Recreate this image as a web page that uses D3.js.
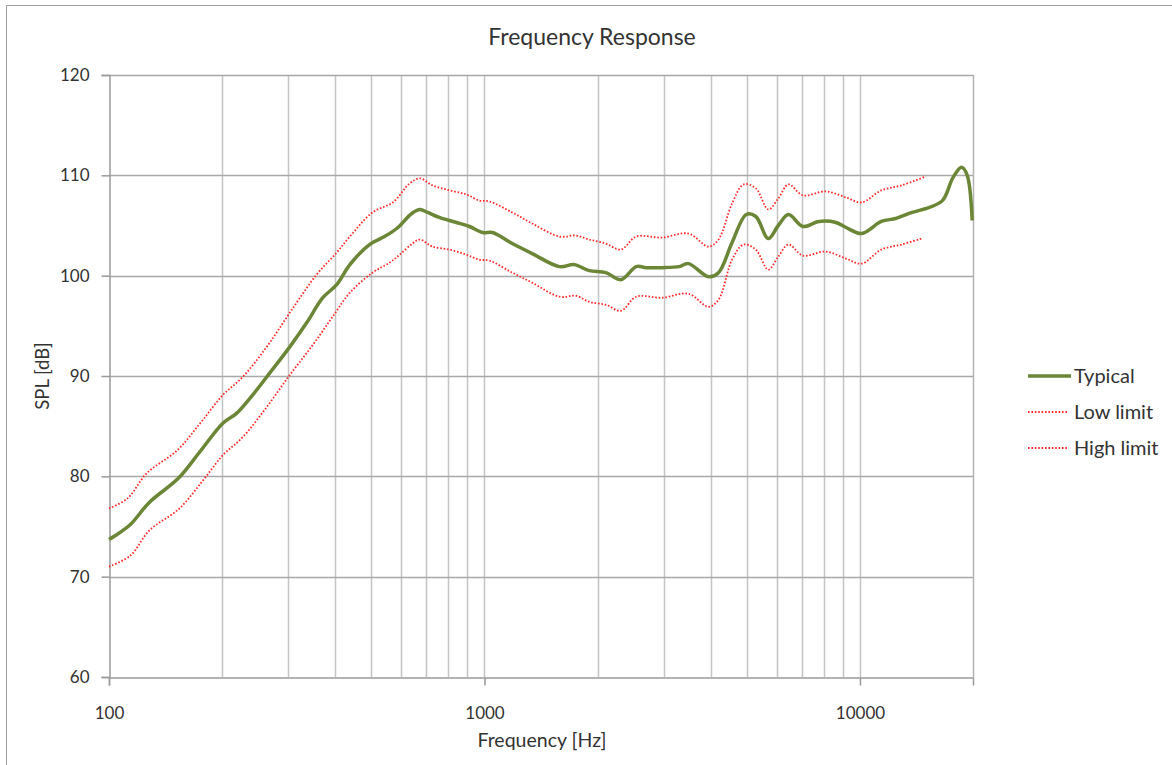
<!DOCTYPE html>
<html><head><meta charset="utf-8">
<script src="https://cdn.jsdelivr.net/npm/d3@7"></script>
<style>
body{margin:0;background:#fff;}
text{font-family:Lato,"Open Sans",sans-serif;fill:#333;}
</style></head><body>
<svg id="c" width="1172" height="765"></svg>
<script>
const title = "Frequency Response";
const xTickLabels = [100, 1000, 10000];
const yTickLabels = [60, 70, 80, 90, 100, 110, 120];
const seriesNames = ["Typical", "Low limit", "High limit"];

const typicalFreq = [100,104,114,128,153,175,201,219,240,263,303,336,371,404,438,494,535,584,640,673,706,758,842,912,989,1050,1186,1340,1584,1733,1901,2104,2309,2536,2700,2970,3300,3493,3952,4200,4565,4980,5280,5700,6060,6450,7050,7770,8630,9180,10100,11400,12450,13770,15300,16600,17700,18650,19300,19900];
const typicalDb   = [73.7,74.1,75.2,77.4,79.8,82.5,85.3,86.3,88.0,89.9,92.9,95.3,97.8,99.1,101.1,103.1,103.8,104.7,106.2,106.6,106.3,105.8,105.3,104.9,104.3,104.3,103.2,102.2,100.9,101.1,100.5,100.3,99.6,100.9,100.8,100.8,100.9,101.2,99.9,100.3,103.3,106.1,105.9,103.7,105.0,106.1,104.9,105.4,105.3,104.8,104.2,105.4,105.7,106.3,106.8,107.5,109.8,110.8,110.0,105.5];

const lowFreq = [100,114,128,154,178,201,227,263,303,349,394,438,503,559,595,643,673,727,808,894,967,1030,1186,1340,1584,1750,1901,2104,2309,2536,2970,3493,3952,4200,4565,4900,5280,5700,6060,6450,7050,8100,9180,10100,11400,12900,14600];
const lowDb   = [71.0,72.1,74.6,76.8,79.6,82.1,83.9,86.9,90.1,93.1,95.9,98.3,100.3,101.3,102.1,103.2,103.6,102.9,102.6,102.1,101.6,101.5,100.3,99.3,97.9,98.0,97.4,97.1,96.5,97.9,97.8,98.2,96.9,97.6,101.6,103.1,102.6,100.6,101.9,103.1,102.0,102.4,101.7,101.2,102.6,103.1,103.7];

const highFreq = [100,112,126,152,175,201,227,263,303,357,404,438,503,570,632,673,727,808,894,967,1030,1186,1340,1584,1750,1901,2104,2309,2536,2970,3493,3952,4200,4565,4900,5280,5700,6060,6450,7050,8100,9180,10100,11400,12900,15000];
const highDb   = [76.8,77.8,80.3,82.6,85.3,88.1,89.9,92.9,96.3,100.1,102.3,103.9,106.3,107.3,109.2,109.7,109.0,108.5,108.1,107.5,107.4,106.3,105.2,103.9,104.0,103.6,103.2,102.6,103.9,103.8,104.2,102.9,103.6,107.2,109.1,108.7,106.6,107.7,109.1,108.0,108.4,107.8,107.3,108.5,109.0,109.9];

const svg = d3.select("#c");
const L = 109, R = 973, T = 75, B = 677;
const x = d3.scaleLog().domain([100, 20000]).range([L, R]);
const y = d3.scaleLinear().domain([60, 120]).range([B, T]);

// outer frame
svg.append("rect").attr("x",6.5).attr("y",5.5).attr("width",1180).attr("height",780)
  .attr("fill","none").attr("stroke","#a0a0a0").attr("stroke-width",1);

// vertical grid (minor + major)
const vgrid = [];
[100,1000,10000].forEach(d => { for (let k=1;k<=9;k++){ const v=d*k; if (v>100 && v<20000) vgrid.push(v);} });
svg.append("g").selectAll("line").data(vgrid).join("line")
  .attr("x1",d=>Math.round(x(d))+0.5).attr("x2",d=>Math.round(x(d))+0.5)
  .attr("y1",T).attr("y2",B).attr("stroke","#c4c4c4").attr("stroke-width",1.5);
svg.append("line").attr("x1",R+0.5).attr("x2",R+0.5).attr("y1",T).attr("y2",B)
  .attr("stroke","#b4b4b4").attr("stroke-width",1.5);

// horizontal grid
svg.append("g").selectAll("line").data(yTickLabels.filter(v=>v>60)).join("line")
  .attr("x1",L).attr("x2",R).attr("y1",d=>Math.round(y(d))+0.5).attr("y2",d=>Math.round(y(d))+0.5)
  .attr("stroke","#a8a8a8").attr("stroke-width",1.5);

// axes
const yAxis = d3.axisLeft(y).tickValues(yTickLabels).tickSize(8).tickPadding(12).tickFormat(d3.format("d"));
const gy = svg.append("g").attr("transform",`translate(${L+0.5},0)`).call(yAxis);
gy.select(".domain").attr("stroke","#9a9a9a").attr("stroke-width",1.5);
gy.selectAll(".tick line").attr("stroke","#9a9a9a").attr("stroke-width",1.5);
gy.selectAll(".tick text").attr("font-size",17).attr("fill","#404040").style("font-family","Lato,sans-serif");

const xAxis = d3.axisBottom(x).tickValues(xTickLabels).tickSize(8).tickPadding(21).tickFormat(d3.format("d"));
const gx = svg.append("g").attr("transform",`translate(0,${B+0.5})`).call(xAxis);
gx.select(".domain").attr("stroke","#9a9a9a").attr("stroke-width",1.5);
gx.selectAll(".tick line").attr("stroke","#9a9a9a").attr("stroke-width",1.5);
gx.selectAll(".tick text").attr("font-size",17).attr("fill","#404040").style("font-family","Lato,sans-serif");

// lines
const line = d3.line().curve(d3.curveCatmullRom.alpha(0.5)).x(d=>x(d[0])).y(d=>y(d[1]));
const red = "#ff2a2a";
const highData = highFreq.map((f,i)=>[f,highDb[i]]);
const lowData = lowFreq.map((f,i)=>[f,lowDb[i]]);
const typData = typicalFreq.map((f,i)=>[f,typicalDb[i]]);
[highData, lowData].forEach(dat=>{
  svg.append("path").datum(dat).attr("d",line).attr("fill","none")
    .attr("stroke",red).attr("stroke-width",1.8).attr("stroke-dasharray","1.6,1.8");
});
svg.append("path").datum(typData).attr("d",line).attr("fill","none")
  .attr("stroke","#6b8636").attr("stroke-width",3.5).attr("stroke-linejoin","round");

// title
svg.append("text").attr("x",592).attr("y",45).attr("text-anchor","middle")
  .attr("font-size",23).attr("fill","#222").text(title);
// axis titles
svg.append("text").attr("x",542).attr("y",747).attr("text-anchor","middle")
  .attr("font-size",19.5).attr("fill","#222").text("Frequency [Hz]");
svg.append("text").attr("transform","translate(49,376) rotate(-90)").attr("text-anchor","middle")
  .attr("font-size",18.5).attr("fill","#222").text("SPL [dB]");

// legend
const lg = svg.append("g");
const ly = [376, 412, 448];
seriesNames.forEach((n,i)=>{
  const l = lg.append("line").attr("x1",1028).attr("x2",i===0?1071:1068).attr("y1",ly[i]).attr("y2",ly[i]);
  if (i===0) l.attr("stroke","#6b8636").attr("stroke-width",3.5);
  else l.attr("stroke",red).attr("stroke-width",1.8).attr("stroke-dasharray","1.6,1.8");
  lg.append("text").attr("x",1074).attr("y",ly[i]+7).attr("font-size",20).attr("fill","#333").text(n);
});
</script></body></html>
